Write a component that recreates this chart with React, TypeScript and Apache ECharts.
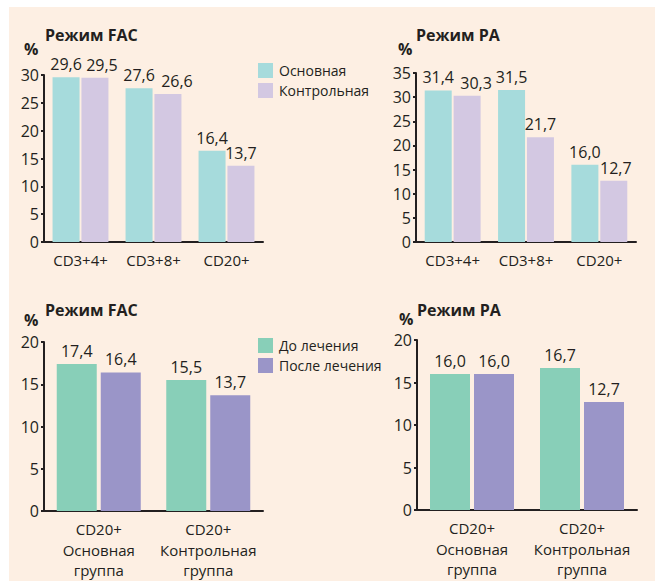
import React, { useEffect, useRef } from "react";
import * as echarts from "echarts";

const topCategories = ["CD3+4+", "CD3+8+", "CD20+"];
const bottomCategories = ["CD20+\nОсновная\nгруппа", "CD20+\nКонтрольная\nгруппа"];

const facMain = [29.6, 27.6, 16.4];
const facControl = [29.5, 26.6, 13.7];
const paMain = [31.4, 31.5, 16.0];
const paControl = [30.3, 21.7, 12.7];

const facBefore = [17.4, 15.5];
const facAfter = [16.4, 13.7];
const paBefore = [16.0, 16.7];
const paAfter = [16.0, 12.7];

// horizontal nudges of value labels (px), as in the original layout
const facControlLabelShift = [7, 9, 0];
const paControlLabelShift = [9, 0, 2];

const FONT = "'Open Sans', sans-serif";
const INK = "#231f20";
const C_TEAL = "#a6dbdc";
const C_LAV = "#d3c8e2";
const C_GREEN = "#88cfb8";
const C_PURPLE = "#9a95c8";

const fmt = (p: any) => Number(p.value).toFixed(1).replace(".", ",");

export default function App() {
  const ref = useRef<HTMLDivElement>(null);
  useEffect(() => {
    if (!ref.current) return;
    const chart = echarts.init(ref.current, null, { renderer: "svg" });

    const grids = [
      { left: 44, top: 75, width: 219, height: 167 },
      { left: 416, top: 73, width: 220, height: 169 },
      { left: 44, top: 342, width: 219, height: 169 },
      { left: 417, top: 340, width: 220, height: 170 },
    ];

    const xAxis = grids.map((_, i) => ({
      type: "category",
      gridIndex: i,
      data: i < 2 ? topCategories : bottomCategories,
      axisLine: { lineStyle: { color: INK, width: 2 } },
      axisTick: { inside: true, length: 3, lineStyle: { color: INK, width: 2 } },
      axisLabel: {
        interval: 0,
        color: INK,
        fontFamily: FONT,
        fontSize: 15,
        margin: 8,
        lineHeight: 20.5,
      },
    }));

    const maxes = [30, 35, 20, 20];
    const yAxis = grids.map((_, i) => ({
      type: "value",
      gridIndex: i,
      min: 0,
      max: maxes[i],
      interval: 5,
      splitLine: { show: false },
      axisLine: { show: true, lineStyle: { color: INK, width: 2 } },
      axisTick: { show: true, length: 3, lineStyle: { color: INK, width: 2 } },
      axisLabel: { color: INK, fontFamily: FONT, fontSize: 16, margin: 5 },
    }));

    const label = () => ({
      show: true,
      position: "top",
      distance: 5,
      color: INK,
      fontFamily: FONT,
      fontSize: 16,
      formatter: fmt,
    });

    const withShift = (data: number[], shift?: number[]) =>
      data.map((v, i) =>
        shift && shift[i] ? { value: v, label: { offset: [shift[i], 0] } } : v
      );

    const topBar = (name: string, data: number[], idx: number, color: string, shift?: number[]) => ({
      type: "bar",
      name,
      data: withShift(data, shift),
      xAxisIndex: idx,
      yAxisIndex: idx,
      barWidth: 27,
      barGap: "7%",
      itemStyle: { color },
      label: label(),
    });
    const botBar = (name: string, data: number[], idx: number, color: string) => ({
      type: "bar",
      name,
      data,
      xAxisIndex: idx,
      yAxisIndex: idx,
      barWidth: 40,
      barGap: "10%",
      itemStyle: { color },
      label: label(),
    });

    const titleText = (text: string, x: number, y: number) => ({
      type: "text",
      x,
      y,
      style: {
        text,
        fill: INK,
        font: `bold 16px ${FONT}`,
        textVerticalAlign: "middle",
      },
    });

    chart.setOption({
      animation: false,
      backgroundColor: "#ffffff",
      graphic: [
        {
          type: "rect",
          shape: { x: 9, y: 7, width: 646, height: 574 },
          style: { fill: "#fdefe3" },
          silent: true,
          z: -10,
        },
        titleText("Режим FAC", 45, 35),
        titleText("%", 24, 49),
        titleText("Режим PA", 416, 35),
        titleText("%", 398, 49),
        titleText("Режим FAC", 45, 310),
        titleText("%", 24, 320),
        titleText("Режим PA", 417, 310),
        titleText("%", 399, 319),
      ],
      legend: [
        {
          data: ["Основная", "Контрольная"],
          left: 258,
          top: 63,
          orient: "vertical",
          itemWidth: 15,
          itemHeight: 15,
          itemGap: 5,
          icon: "rect",
          textStyle: { color: INK, fontFamily: FONT, fontSize: 14, padding: [0, 0, 0, 1] },
          padding: 0,
        },
        {
          data: ["До лечения", "После лечения"],
          left: 258,
          top: 338,
          orient: "vertical",
          itemWidth: 15,
          itemHeight: 15,
          itemGap: 5,
          icon: "rect",
          textStyle: { color: INK, fontFamily: FONT, fontSize: 14, padding: [0, 0, 0, 1] },
          padding: 0,
        },
      ],
      grid: grids,
      xAxis,
      yAxis,
      series: [
        topBar("Основная", facMain, 0, C_TEAL),
        topBar("Контрольная", facControl, 0, C_LAV, facControlLabelShift),
        topBar("Основная", paMain, 1, C_TEAL),
        topBar("Контрольная", paControl, 1, C_LAV, paControlLabelShift),
        botBar("До лечения", facBefore, 2, C_GREEN),
        botBar("После лечения", facAfter, 2, C_PURPLE),
        botBar("До лечения", paBefore, 3, C_GREEN),
        botBar("После лечения", paAfter, 3, C_PURPLE),
      ],
    });
    return () => chart.dispose();
  }, []);

  return (
    <div
      ref={ref}
      style={{ position: "absolute", left: 0, top: 0, width: 655, height: 581 }}
    />
  );
}
